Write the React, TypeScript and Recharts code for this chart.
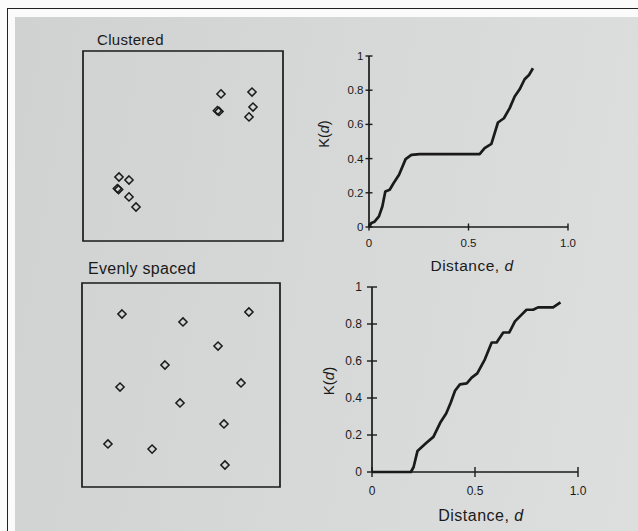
import React from 'react';
import {
  ScatterChart,
  Scatter,
  LineChart,
  Line,
  XAxis,
  YAxis,
  ReferenceArea,
} from 'recharts';

// point patterns on the unit square
const clusteredPoints = [
  { x: 0.69, y: 0.774 },
  { x: 0.845, y: 0.784 },
  { x: 0.672, y: 0.686 },
  { x: 0.68, y: 0.682 },
  { x: 0.85, y: 0.705 },
  { x: 0.83, y: 0.653 },
  { x: 0.18, y: 0.337 },
  { x: 0.23, y: 0.321 },
  { x: 0.172, y: 0.276 },
  { x: 0.178, y: 0.271 },
  { x: 0.23, y: 0.232 },
  { x: 0.265, y: 0.179 },
];

const evenPoints = [
  { x: 0.202, y: 0.848 },
  { x: 0.843, y: 0.858 },
  { x: 0.51, y: 0.809 },
  { x: 0.687, y: 0.691 },
  { x: 0.419, y: 0.598 },
  { x: 0.192, y: 0.49 },
  { x: 0.803, y: 0.51 },
  { x: 0.495, y: 0.412 },
  { x: 0.717, y: 0.309 },
  { x: 0.131, y: 0.211 },
  { x: 0.354, y: 0.186 },
  { x: 0.722, y: 0.108 },
];

// K(d) for the clustered pattern
const clusteredD = [
  0, 0.012, 0.028, 0.05, 0.067, 0.082, 0.104, 0.124, 0.151, 0.184, 0.213, 0.255,
  0.556, 0.581, 0.615, 0.648, 0.678, 0.707, 0.732, 0.757, 0.782, 0.804, 0.824,
];
const clusteredK = [
  0, 0.023, 0.031, 0.062, 0.12, 0.208, 0.218, 0.257, 0.305, 0.397, 0.422, 0.426,
  0.426, 0.461, 0.486, 0.611, 0.636, 0.695, 0.763, 0.805, 0.864, 0.889, 0.928,
];

// K(d) for the evenly spaced pattern
const evenD = [
  0, 0.189, 0.202, 0.221, 0.234, 0.263, 0.298, 0.331, 0.36, 0.382, 0.403, 0.427,
  0.46, 0.484, 0.511, 0.548, 0.581, 0.605, 0.637, 0.666, 0.694, 0.718, 0.75,
  0.782, 0.806, 0.879, 0.915,
];
const evenK = [
  0, 0, 0.027, 0.114, 0.127, 0.157, 0.19, 0.266, 0.316, 0.374, 0.439, 0.474,
  0.479, 0.51, 0.533, 0.609, 0.7, 0.7, 0.754, 0.754, 0.814, 0.841, 0.877,
  0.877, 0.89, 0.89, 0.917,
];

const distanceTicks = [0, 0.5, 1];
const kTicks = [0, 0.2, 0.4, 0.6, 0.8, 1];

const INK = '#1a1a1a';
const FONT = '"Liberation Sans", Arial, sans-serif';

const clusteredCurve = clusteredD.map((d, i) => ({ d, k: clusteredK[i] }));
const evenCurve = evenD.map((d, i) => ({ d, k: evenK[i] }));

const fmtDistance = (v: number) => (v === 0 ? '0' : v === 1 ? '1.0' : String(v));
const fmtK = (v: number) => String(v);

const Diamond = (props: any) => {
  const { cx, cy } = props;
  const r = 4.1;
  return (
    <path
      d={`M${cx},${cy - r} L${cx + r},${cy} L${cx},${cy + r} L${cx - r},${cy} Z`}
      fill="none"
      stroke={INK}
      strokeWidth={1.5}
    />
  );
};

// ticks cross the axis line, so the tick line is drawn here with the label
const makeXTick = (size: number, gap: number, fontSize: number) => (props: any) => {
  const { x, y, payload } = props;
  const axisY = y - size - gap;
  return (
    <g>
      <line x1={x} x2={x} y1={axisY - size} y2={axisY + size} stroke={INK} strokeWidth={1.4} />
      <text x={x} y={y} dy="0.71em" textAnchor="middle" fontSize={fontSize} fill={INK} fontFamily={FONT}>
        {fmtDistance(payload.value)}
      </text>
    </g>
  );
};

const makeYTick = (size: number, gap: number, fontSize: number) => (props: any) => {
  const { x, y, payload } = props;
  const axisX = x + size + gap;
  return (
    <g>
      <line x1={axisX - size} x2={axisX + size} y1={y} y2={y} stroke={INK} strokeWidth={1.4} />
      <text x={x} y={y} dy="0.35em" textAnchor="end" fontSize={fontSize} fill={INK} fontFamily={FONT}>
        {fmtK(payload.value)}
      </text>
    </g>
  );
};

const PatternBox = ({ data, left, top, width, height }: any) => (
  <div style={{ position: 'absolute', left, top }}>
    <ScatterChart width={width} height={height} margin={{ top: 2, right: 2, bottom: 2, left: 2 }}>
      <XAxis type="number" dataKey="x" domain={[0, 1]} hide />
      <YAxis type="number" dataKey="y" domain={[0, 1]} hide />
      <ReferenceArea x1={0} x2={1} y1={0} y2={1} fill="none" fillOpacity={0} stroke={INK} strokeWidth={1.7} />
      <Scatter data={data} shape={Diamond} isAnimationActive={false} />
    </ScatterChart>
  </div>
);

const KChart = ({ data, left, top, width, height, margin, xt, yt, fontSize }: any) => (
  <div style={{ position: 'absolute', left, top }}>
    <LineChart width={width} height={height} data={data} margin={margin}>
      <XAxis
        type="number"
        dataKey="d"
        domain={[0, 1]}
        ticks={distanceTicks}
        height={30}
        tickLine={false}
        tickSize={xt[0]}
        tickMargin={xt[1]}
        axisLine={{ stroke: INK, strokeWidth: 1.7 }}
        tick={makeXTick(xt[0], xt[1], fontSize)}
        interval={0}
      />
      <YAxis
        type="number"
        domain={[0, 1]}
        ticks={kTicks}
        width={40}
        tickLine={false}
        tickSize={yt[0]}
        tickMargin={yt[1]}
        axisLine={{ stroke: INK, strokeWidth: 1.7 }}
        tick={makeYTick(yt[0], yt[1], fontSize)}
        interval={0}
      />
      <Line
        type="linear"
        dataKey="k"
        stroke={INK}
        strokeWidth={2.7}
        dot={false}
        strokeLinejoin="round"
        isAnimationActive={false}
      />
    </LineChart>
  </div>
);

const label = (text: React.ReactNode, cx: number, cy: number, size: number, extra: any = {}) => (
  <div
    style={{
      position: 'absolute',
      left: cx,
      top: cy,
      transform: 'translate(-50%, -50%)',
      fontFamily: FONT,
      fontSize: size,
      color: INK,
      whiteSpace: 'nowrap',
      ...extra,
    }}
  >
    {text}
  </div>
);

export default function App() {
  return (
    <div
      style={{
        position: 'absolute',
        left: 0,
        top: 0,
        width: 638,
        height: 531,
        overflow: 'hidden',
        background: '#fbfbfb',
      }}
    >
      <div
        style={{
          position: 'absolute',
          left: 7,
          top: 8,
          right: -2,
          bottom: -2,
          borderLeft: '1.5px solid #222',
          borderTop: '1.5px solid #222',
        }}
      />
      <div
        style={{
          position: 'absolute',
          left: 15,
          top: 17,
          right: 0,
          bottom: 0,
          background: 'linear-gradient(100deg, #d0d1d1 0%, #d6d7d7 45%, #dddede 100%)',
        }}
      />

      <div style={{ position: 'absolute', left: 97, top: 31, fontFamily: FONT, fontSize: 15, color: INK, letterSpacing: 0.3 }}>
        Clustered
      </div>
      <PatternBox data={clusteredPoints} left={81} top={49} width={204} height={194} />

      <div style={{ position: 'absolute', left: 88, top: 260, fontFamily: FONT, fontSize: 16, color: INK, letterSpacing: 0.3 }}>
        Evenly spaced
      </div>
      <PatternBox data={evenPoints} left={80} top={281} width={202} height={208} />

      <KChart
        data={clusteredCurve}
        left={300}
        top={40}
        width={300}
        height={230}
        margin={{ top: 16, right: 32, bottom: 13, left: 29 }}
        xt={[3.5, 8.5]}
        yt={[3.5, 2]}
        fontSize={11.5}
      />
      {label(<span>K(<i>d</i>)</span>, 324, 134, 14.5, { transform: 'translate(-50%, -50%) rotate(-90deg)' })}
      {label(<span>Distance, <i>d</i></span>, 472, 266, 15.5, { letterSpacing: 0.5 })}

      <KChart
        data={evenCurve}
        left={300}
        top={270}
        width={300}
        height={250}
        margin={{ top: 17, right: 22, bottom: 18, left: 32 }}
        xt={[5, 9]}
        yt={[5, 5]}
        fontSize={12}
      />
      {label(<span>K(<i>d</i>)</span>, 328, 381, 15, { transform: 'translate(-50%, -50%) rotate(-90deg)' })}
      {label(<span>Distance, <i>d</i></span>, 481, 516, 16, { letterSpacing: 0.5 })}
    </div>
  );
}
